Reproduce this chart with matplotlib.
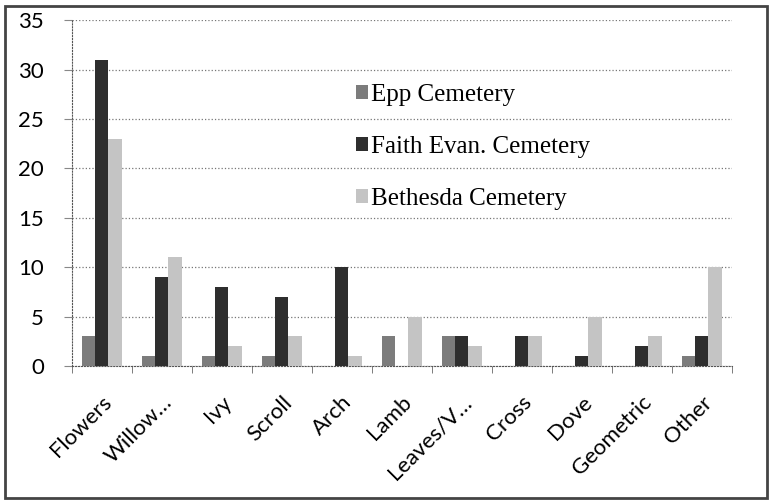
import numpy as np
import matplotlib
matplotlib.use('Agg')
import matplotlib.pyplot as plt
from matplotlib.patches import Rectangle

categories = ['Flowers', 'Willow…', 'Ivy', 'Scroll', 'Arch', 'Lamb',
              'Leaves/V…', 'Cross', 'Dove', 'Geometric', 'Other']
epp = [3, 1, 1, 1, 0, 3, 3, 0, 0, 0, 1]
faith = [31, 9, 8, 7, 10, 0, 3, 3, 1, 2, 3]
bethesda = [23, 11, 2, 3, 1, 5, 2, 3, 5, 3, 10]
series_names = ['Epp Cemetery', 'Faith Evan. Cemetery', 'Bethesda Cemetery']
yticks = [0, 5, 10, 15, 20, 25, 30, 35]

colors = ['#7c7c7c', '#2e2e2e', '#c4c4c4']

fig = plt.figure(figsize=(7.72, 5.04), dpi=100)
ax = fig.add_axes([0.093, 0.274, 0.855, 0.686])

x = np.arange(len(categories))
w = 0.22
for i, (vals, name) in enumerate(zip([epp, faith, bethesda], series_names)):
    ax.bar(x + (i - 1) * w, vals, width=w, color=colors[i], label=name,
           zorder=3)

ax.set_xlim(-0.5, len(categories) - 0.5)
ax.set_ylim(0, 35)
ax.set_yticks(yticks)
ax.set_yticklabels([str(t) for t in yticks], fontfamily='Lato', fontsize=16)
ax.yaxis.grid(True, linestyle=':', color='#777777', linewidth=0.9, zorder=0)

ax.set_xticks(x)
ax.set_xticklabels(categories, rotation=45, ha='right', rotation_mode='anchor',
                   fontfamily='Lato', fontsize=16)
ax.tick_params(axis='x', length=0, pad=19)
ax.tick_params(axis='y', length=6, width=0.8, color='#888888', pad=14)
ax.set_xticks(np.arange(-0.5, len(categories), 1), minor=True)
ax.tick_params(axis='x', which='minor', length=5, color='#666666')

for s in ['top', 'right']:
    ax.spines[s].set_visible(False)
for s in ['left', 'bottom']:
    ax.spines[s].set_linestyle(':')
    ax.spines[s].set_color('#555555')

leg = ax.legend(loc='center left', bbox_to_anchor=(0.397, 0.633), frameon=False,
                prop={'family': 'Liberation Serif', 'size': 18},
                handlelength=0.45, handleheight=0.45, handletextpad=0.15,
                labelspacing=1.2)

fig.patches.append(Rectangle((0.007, 0.012), 0.986, 0.976,
                             transform=fig.transFigure, fill=False,
                             edgecolor='#444444', linewidth=2))

fig.savefig('out.png', dpi=100)
